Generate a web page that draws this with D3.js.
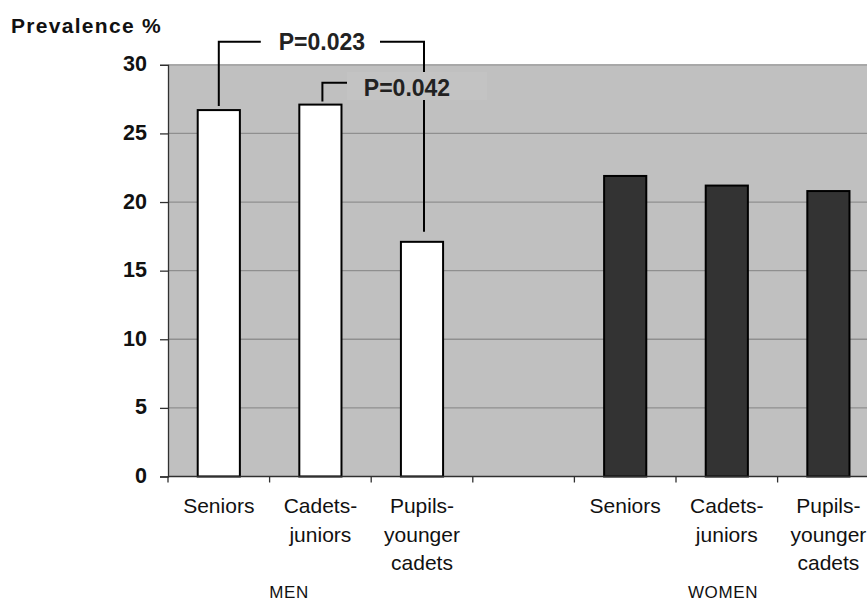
<!DOCTYPE html>
<html>
<head>
<meta charset="utf-8">
<script src="https://cdn.jsdelivr.net/npm/d3@7"></script>
<style>
  html, body { margin: 0; padding: 0; background: #ffffff; }
  svg { display: block; font-family: Arial, "Liberation Sans", Helvetica, sans-serif; }
</style>
</head>
<body>
<svg id="chart" width="867" height="603"></svg>
<script>
// ---- data ----
const groups = ["MEN", "WOMEN"];
const subCategories = ["Seniors", "Cadets-juniors", "Pupils-younger cadets"];
const subLabelLines = [["Seniors"], ["Cadets-", "juniors"], ["Pupils-", "younger", "cadets"]];
const menValues = [26.7, 27.1, 17.1];
const womenValues = [21.9, 21.2, 20.8];
const yTicks = [0, 5, 10, 15, 20, 25, 30];
const yTitle = "Prevalence %";
const annotations = [
  { label: "P=0.023", from: 0, to: 2 },
  { label: "P=0.042", from: 1, to: 2 }
];

// ---- slots: MEN (3) + gap + WOMEN (3) ----
const slots = [];
subCategories.forEach((c, i) => slots.push({ key: "MEN|" + c, group: "MEN", idx: i, value: menValues[i] }));
slots.push({ key: "GAP", group: null, idx: -1, value: null });
subCategories.forEach((c, i) => slots.push({ key: "WOMEN|" + c, group: "WOMEN", idx: i, value: womenValues[i] }));

const svg = d3.select("#chart");
const plotLeft = 168, plotTop = 64.8, plotBottom = 476.5;
const step = 101.6;

const x = d3.scaleBand().domain(slots.map(d => d.key)).range([plotLeft, plotLeft + step * slots.length]).padding(0);
const y = d3.scaleLinear().domain([0, 30]).range([plotBottom, plotTop]);
const barW = x.bandwidth() * 0.415;

// plot background
svg.append("rect")
  .attr("x", plotLeft).attr("y", y(30))
  .attr("width", x.range()[1] - plotLeft).attr("height", y(0) - y(30))
  .attr("fill", "#c0c0c0");

// gridlines
svg.append("g").selectAll("line").data(yTicks.filter(t => t > 0)).join("line")
  .attr("x1", plotLeft).attr("x2", x.range()[1])
  .attr("y1", d => y(d)).attr("y2", d => y(d))
  .attr("stroke", "#8f8f8f").attr("stroke-width", 1.3);

// y axis
const yAxis = svg.append("g").attr("transform", `translate(${plotLeft},0)`)
  .call(d3.axisLeft(y).tickValues(yTicks).tickSize(8).tickPadding(0).tickFormat(d3.format("d")));
yAxis.select(".domain").attr("stroke", "#303030").attr("stroke-width", 1.3);
yAxis.selectAll(".tick line").attr("stroke", "#303030").attr("stroke-width", 1.3);
yAxis.selectAll(".tick text")
  .attr("x", -21).attr("dy", "0.28em")
  .attr("font-size", 21.5).attr("font-weight", "bold").attr("fill", "#111")
  .attr("font-family", "Arial, 'Liberation Sans', sans-serif");

// bars
svg.append("g").selectAll("rect").data(slots.filter(d => d.value != null)).join("rect")
  .attr("x", d => x(d.key) + (x.bandwidth() - barW) / 2)
  .attr("y", d => y(d.value))
  .attr("width", barW)
  .attr("height", d => y(0) - y(d.value))
  .attr("fill", d => d.group === "MEN" ? "#ffffff" : "#333333")
  .attr("stroke", "#000").attr("stroke-width", 2);

// x axis line + ticks at slot boundaries
const xAxisG = svg.append("g");
xAxisG.append("line")
  .attr("x1", plotLeft).attr("x2", x.range()[1])
  .attr("y1", y(0)).attr("y2", y(0))
  .attr("stroke", "#303030").attr("stroke-width", 1.5);
const bounds = slots.map(d => x(d.key)).concat([x.range()[1]]);
xAxisG.selectAll("line.tk").data(bounds).join("line").attr("class", "tk")
  .attr("x1", d => d).attr("x2", d => d)
  .attr("y1", y(0)).attr("y2", y(0) + 6)
  .attr("stroke", "#303030").attr("stroke-width", 1.3);

// category labels
const labG = svg.append("g").attr("font-size", 21).attr("fill", "#111").attr("text-anchor", "middle");
slots.filter(d => d.group).forEach(d => {
  const t = labG.append("text").attr("x", x(d.key) + x.bandwidth() / 2).attr("y", 513);
  subLabelLines[d.idx].forEach((ln, i) => {
    t.append("tspan").attr("x", x(d.key) + x.bandwidth() / 2).attr("y", 513 + i * 28.5).text(ln);
  });
});

// group labels
const groupX = { MEN: x("MEN|Cadets-juniors") + 19.5, WOMEN: x("WOMEN|Cadets-juniors") + 47 };
svg.append("g").selectAll("text").data(groups).join("text")
  .attr("x", d => groupX[d]).attr("y", 598)
  .attr("text-anchor", "middle").attr("font-size", 17).attr("letter-spacing", 0.6).attr("fill", "#111")
  .text(d => d);

// y title
svg.append("text").attr("x", 11).attr("y", 33)
  .attr("font-size", 21).attr("font-weight", "bold").attr("letter-spacing", 1.3)
  .attr("fill", "#111").text(yTitle);

// annotations (significance brackets)
const cx = i => x("MEN|" + subCategories[i]) + x.bandwidth() / 2;
const annG = svg.append("g");
const lineStyle = sel => sel.attr("fill", "none").attr("stroke", "#000").attr("stroke-width", 2);

// P=0.023 bracket
{
  const a = annotations[0];
  const yTop = 41.7;
  const x1 = cx(a.from), x2 = cx(a.to) + 2;
  annG.append("path").call(lineStyle)
    .attr("d", `M${x1},${y(menValues[a.from]) - 4}V${yTop}H${x1 + 42}`);
  annG.append("path").call(lineStyle)
    .attr("d", `M${x2 - 44},${yTop}H${x2}V${y(menValues[a.to]) - 10}`);
  annG.append("text").attr("x", (x1 + x2) / 2 + 0.5).attr("y", yTop + 8)
    .attr("text-anchor", "middle").attr("font-size", 23).attr("font-weight", "bold")
    .attr("fill", "#222").text(a.label);
}
// P=0.042 bracket
{
  const a = annotations[1];
  const yTop = 82.8;
  const x1 = cx(a.from) + 2;
  annG.append("path").call(lineStyle)
    .attr("d", `M${x1},${y(menValues[a.from]) - 3}V${yTop}H${x1 + 29}`);
  annG.append("rect").attr("x", 347).attr("y", 72).attr("width", 140).attr("height", 28)
    .attr("fill", "#c3c3c3");
  annG.append("text").attr("x", 407).attr("y", 95.5)
    .attr("text-anchor", "middle").attr("font-size", 23).attr("font-weight", "bold")
    .attr("fill", "#222").text(a.label);
}
</script>
</body>
</html>
